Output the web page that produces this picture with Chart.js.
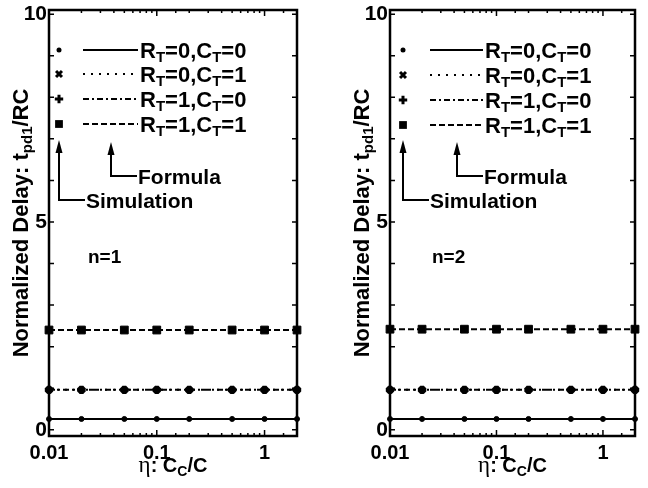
<!DOCTYPE html>
<html>
<head>
<meta charset="utf-8">
<script src="https://cdn.jsdelivr.net/npm/chart.js@4.4.1/dist/chart.umd.min.js"></script>
<style>
body { margin: 0; background: #fff; width: 648px; height: 488px; overflow: hidden; position: relative; }
canvas { position: absolute; top: 0; }
#c1 { left: 0; }
#c2 { left: 340px; }
</style>
</head>
<body>
<canvas id="c1" width="324" height="488"></canvas>
<canvas id="c2" width="308" height="488"></canvas>
<script>
// eta = Cc/C sample points
var eta = [0.01, 0.02, 0.05, 0.1, 0.2, 0.5, 1, 2];

// n=1, formula curves
var f1_r0c0 = [0.26, 0.26, 0.26, 0.26, 0.26, 0.26, 0.26, 0.26];
var f1_r0c1 = [0.96, 0.96, 0.96, 0.96, 0.96, 0.96, 0.96, 0.96];
var f1_r1c0 = [0.96, 0.96, 0.96, 0.96, 0.96, 0.96, 0.96, 0.96];
var f1_r1c1 = [2.40, 2.40, 2.40, 2.40, 2.40, 2.40, 2.40, 2.40];
// n=1, simulation
var s1_r0c0 = [0.26, 0.26, 0.26, 0.26, 0.26, 0.26, 0.26, 0.26];
var s1_r0c1 = [0.96, 0.96, 0.96, 0.96, 0.96, 0.96, 0.96, 0.96];
var s1_r1c0 = [0.96, 0.96, 0.96, 0.96, 0.96, 0.96, 0.96, 0.96];
var s1_r1c1 = [2.40, 2.40, 2.40, 2.40, 2.40, 2.40, 2.40, 2.40];

// n=2, formula curves
var f2_r0c0 = [0.26, 0.26, 0.26, 0.26, 0.26, 0.26, 0.26, 0.26];
var f2_r0c1 = [0.96, 0.96, 0.96, 0.96, 0.96, 0.96, 0.96, 0.96];
var f2_r1c0 = [0.96, 0.96, 0.96, 0.96, 0.96, 0.96, 0.96, 0.96];
var f2_r1c1 = [2.42, 2.42, 2.42, 2.42, 2.42, 2.42, 2.42, 2.42];
// n=2, simulation
var s2_r0c0 = [0.26, 0.26, 0.26, 0.26, 0.26, 0.26, 0.26, 0.26];
var s2_r0c1 = [0.96, 0.96, 0.96, 0.96, 0.96, 0.96, 0.96, 0.96];
var s2_r1c0 = [0.96, 0.96, 0.96, 0.96, 0.96, 0.96, 0.96, 0.96];
var s2_r1c1 = [2.42, 2.42, 2.42, 2.42, 2.42, 2.42, 2.42, 2.42];

var seriesLabels = ['R_T=0,C_T=0', 'R_T=0,C_T=1', 'R_T=1,C_T=0', 'R_T=1,C_T=1'];
var xTickValues = [0.01, 0.1, 1];
var yTicks = [0, 1, 2, 3, 4, 5, 6, 7, 8, 9, 10];
var yTickLabels = [0, 5, 10];
var xTitle = ': C_C/C';
var yTitle = 'Normalized Delay: t_{pd1}/RC';

var lineDashes = [[], [2, 6], [6, 3, 2, 3], [6, 3]];
var simStyles = ['circle', 'crossRot', 'cross', 'rect'];
var simRadius = [2.5, 4.2, 4.2, 5.5];
var simBorder = [1, 3.5, 3.5, 1];
var SANS = '"Liberation Sans", Arial, Helvetica, sans-serif';

function font(size) { return 'bold ' + size + 'px ' + SANS; }

function parseRich(s) {
  var parts = [], re = /_\{([^}]*)\}|_(.)/g, last = 0, m;
  while ((m = re.exec(s))) {
    if (m.index > last) parts.push({ t: s.slice(last, m.index), sub: false });
    parts.push({ t: m[1] || m[2], sub: true });
    last = re.lastIndex;
  }
  if (last < s.length) parts.push({ t: s.slice(last), sub: false });
  return parts;
}

// draws text with subscripts, y = vertical middle
function drawRich(ctx, s, x, y, size, align, serifPrefix) {
  var parts = parseRich(s);
  if (serifPrefix) parts.unshift({ t: serifPrefix, sub: false, serif: true });
  var subSize = Math.round(size * 0.68), w = 0;
  parts.forEach(function (p) {
    ctx.font = p.serif ? (size + 3) + 'px "Liberation Serif", serif' : font(p.sub ? subSize : size);
    p.w = ctx.measureText(p.t).width;
    w += p.w;
  });
  var cx = align === 'center' ? x - w / 2 : x;
  var base = y + size * 0.36;
  ctx.textAlign = 'left';
  ctx.textBaseline = 'alphabetic';
  parts.forEach(function (p) {
    ctx.font = p.serif ? (size + 3) + 'px "Liberation Serif", serif' : font(p.sub ? subSize : size);
    ctx.fillText(p.t, cx, p.sub ? base + size * 0.2 : base);
    cx += p.w;
  });
}

function drawMarker(ctx, i, x, y) {
  ctx.save();
  ctx.fillStyle = '#000';
  ctx.strokeStyle = '#000';
  var r = simRadius[i];
  if (simStyles[i] === 'circle') {
    ctx.beginPath(); ctx.arc(x, y, r, 0, Math.PI * 2); ctx.fill();
  } else if (simStyles[i] === 'rect') {
    var h = r * Math.SQRT1_2; ctx.fillRect(x - h, y - h, 2 * h, 2 * h);
  } else {
    ctx.lineWidth = 3;
    var d = simStyles[i] === 'cross' ? 0 : Math.PI / 4;
    ctx.beginPath();
    for (var k = 0; k < 2; k++) {
      var a = d + k * Math.PI / 2, rr = r;
      ctx.moveTo(x - Math.cos(a) * rr, y - Math.sin(a) * rr);
      ctx.lineTo(x + Math.cos(a) * rr, y + Math.sin(a) * rr);
    }
    ctx.stroke();
  }
  ctx.restore();
}

function arrow(ctx, x, tipY, bendY, endX) {
  ctx.beginPath();
  ctx.moveTo(x, tipY + 10);
  ctx.lineTo(x, bendY);
  ctx.lineTo(endX, bendY);
  ctx.stroke();
  ctx.beginPath();
  ctx.moveTo(x, tipY);
  ctx.lineTo(x - 3.5, tipY + 13);
  ctx.lineTo(x + 3.5, tipY + 13);
  ctx.closePath();
  ctx.fill();
}

function makePanel(id, nLabel, formula, sim, lay) {
  var datasets = [];
  formula.forEach(function (vals, i) {
    datasets.push({
      data: eta.map(function (x, k) { return { x: x, y: vals[k] }; }),
      showLine: true, borderColor: '#000', borderWidth: 2, borderDash: lineDashes[i],
      pointRadius: 0, clip: false
    });
  });
  sim.forEach(function (vals, i) {
    datasets.push({
      data: eta.map(function (x, k) { return { x: x, y: vals[k] }; }),
      showLine: false, pointStyle: simStyles[i], pointRadius: simRadius[i],
      pointBorderWidth: simBorder[i], borderColor: '#000', backgroundColor: '#000', clip: false
    });
  });

  var decor = {
    id: 'decor',
    afterDraw: function (chart) {
      var ctx = chart.ctx, a = chart.chartArea, xs = chart.scales.x, ys = chart.scales.y;
      ctx.save();
      ctx.strokeStyle = '#000';
      ctx.fillStyle = '#000';
      // inward ticks
      ctx.lineWidth = 1.5;
      ctx.beginPath();
      ys.ticks.forEach(function (t) {
        var py = ys.getPixelForValue(t.value);
        ctx.moveTo(a.left, py); ctx.lineTo(a.left + 5, py);
        ctx.moveTo(a.right, py); ctx.lineTo(a.right - 5, py);
      });
      xs.ticks.forEach(function (t) {
        var lg = Math.log10(t.value);
        var major = Math.abs(lg - Math.round(lg)) < 1e-9;
        var len = major ? 6 : 3;
        var px = xs.getPixelForValue(t.value);
        ctx.moveTo(px, a.bottom); ctx.lineTo(px, a.bottom - len);
        ctx.moveTo(px, a.top); ctx.lineTo(px, a.top + len);
      });
      ctx.stroke();
      // frame
      ctx.lineWidth = 2.5;
      ctx.strokeRect(a.left, a.top, a.right - a.left, a.bottom - a.top);

      // legend
      ctx.lineWidth = 2;
      seriesLabels.forEach(function (lab, i) {
        var y = a.top + lay.rowY[i];
        drawMarker(ctx, i, a.left + lay.mark, y);
        ctx.setLineDash(lineDashes[i]);
        ctx.beginPath();
        ctx.moveTo(a.left + lay.seg0, y); ctx.lineTo(a.left + lay.seg1, y);
        ctx.stroke();
        ctx.setLineDash([]);
        drawRich(ctx, lab, a.left + lay.text, y, 22, 'left');
      });

      // pointer arrows
      arrow(ctx, a.left + lay.mark, a.top + 130, a.top + 190, a.left + lay.mark + 26);
      drawRich(ctx, 'Simulation', a.left + lay.mark + 27, a.top + 190, 21, 'left');
      arrow(ctx, a.left + lay.form, a.top + 132, a.top + 166, a.left + lay.form + 26);
      drawRich(ctx, 'Formula', a.left + lay.form + 27, a.top + 166, 21, 'left');

      drawRich(ctx, nLabel, a.left + lay.n, a.top + 246, 19, 'left');

      // axis titles
      drawRich(ctx, xTitle, (a.left + a.right) / 2, 465, 20, 'center', '\u03b7');
      ctx.translate(a.left - 29, (a.top + a.bottom) / 2);
      ctx.rotate(-Math.PI / 2);
      drawRich(ctx, yTitle, 0, 0, 22, 'center');
      ctx.restore();
    }
  };

  return new Chart(document.getElementById(id), {
    type: 'scatter',
    data: { datasets: datasets },
    options: {
      responsive: false,
      animation: false,
      devicePixelRatio: 1,
      layout: { padding: { top: 10, right: lay.padRight, left: 0, bottom: 0 } },
      plugins: { legend: { display: false }, tooltip: { enabled: false } },
      scales: {
        x: {
          type: 'logarithmic', min: 0.01, max: 2,
          grid: { display: false, drawTicks: false },
          border: { display: false },
          ticks: {
            color: '#000', font: { family: SANS, size: 20, weight: 'bold' },
            padding: 5, autoSkip: false, maxRotation: 0,
            callback: function (v) {
              for (var i = 0; i < xTickValues.length; i++) {
                if (Math.abs(v - xTickValues[i]) < 1e-9) return String(xTickValues[i]);
              }
              return '';
            }
          },
          afterFit: function (s) { s.height = 52; s.paddingLeft = 0; s.paddingRight = 0; }
        },
        y: {
          min: -0.15, max: 10.1,
          grid: { display: false, drawTicks: false },
          border: { display: false },
          ticks: {
            color: '#000', font: { family: SANS, size: 21, weight: 'bold' },
            padding: 2, autoSkip: false,
            callback: function (v) { return yTickLabels.indexOf(v) >= 0 ? String(v) : ''; }
          },
          afterBuildTicks: function (s) { s.ticks = yTicks.map(function (v) { return { value: v }; }); },
          afterFit: function (s) { s.width = lay.yWidth; s.paddingTop = 0; s.paddingBottom = 0; }
        }
      }
    },
    plugins: [decor]
  });
}

makePanel('c1', 'n=1', [f1_r0c0, f1_r0c1, f1_r1c0, f1_r1c1], [s1_r0c0, s1_r0c1, s1_r1c0, s1_r1c1],
  { yWidth: 49, padRight: 27, rowY: [40, 64, 89, 114], mark: 10, seg0: 34, seg1: 89, text: 91, form: 62, n: 39 });
makePanel('c2', 'n=2', [f2_r0c0, f2_r0c1, f2_r1c0, f2_r1c1], [s2_r0c0, s2_r0c1, s2_r1c0, s2_r1c1],
  { yWidth: 50, padRight: 13, rowY: [40, 65, 90, 115], mark: 13, seg0: 40, seg1: 93, text: 95, form: 67, n: 42 });
</script>
</body>
</html>
